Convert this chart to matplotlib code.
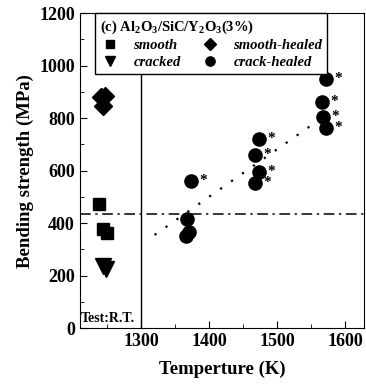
import matplotlib.pyplot as plt
from matplotlib.ticker import MultipleLocator

plt.rcParams['font.family'] = ['Liberation Serif', 'DejaVu Serif']
plt.rcParams['font.weight'] = 'bold'
plt.rcParams['mathtext.default'] = 'regular'

# room-temperature tests (plotted left of the 1300 K line)
smooth_x = [1238, 1244, 1250]
smooth_y = [472, 376, 364]
cracked_x = [1244, 1249]
cracked_y = [235, 226]
sheal_x = [1241, 1247, 1244]
sheal_y = [880, 884, 846]

# high-temperature crack-healed
chealed_x = [1373, 1368, 1370, 1366, 1473, 1468, 1473, 1468, 1572, 1566, 1568, 1572]
chealed_y = [560, 415, 368, 352, 720, 659, 594, 552, 949, 861, 804, 762]
starred = [True, False, False, False, True, True, True, True, True, True, True, True]

trend_x = [1320, 1560]
trend_y = [355, 790]
rt_level = 435

fig = plt.figure(figsize=(3.66, 3.86), dpi=100)
ax = fig.add_axes([0.218, 0.150, 0.777, 0.816])

ax.plot(trend_x, trend_y, color='k', ls=(0, (1, 5)), lw=1.6)
ax.axhline(rt_level, color='k', ls=(0, (7, 3, 1.5, 3)), lw=1.1)
ax.axvline(1300, color='k', lw=1.0)

ax.plot(smooth_x, smooth_y, 's', color='k', ms=8, label='smooth')
ax.plot(cracked_x, cracked_y, 'v', color='k', ms=11, label='cracked')
ax.plot(sheal_x, sheal_y, 'D', color='k', ms=9, label='smooth-healed')
ax.plot(chealed_x, chealed_y, 'o', color='k', ms=9.5, label='crack-healed')

for x, y, s in zip(chealed_x, chealed_y, starred):
    if s:
        ax.annotate('*', (x, y), xytext=(6, -2), textcoords='offset points',
                    fontsize=11, fontweight='bold')

ax.text(1212, 22, 'Test:R.T.', fontsize=10, fontweight='bold')

ax.set_xlim(1210, 1628)
ax.set_ylim(0, 1200)
ax.set_xticks([1300, 1400, 1500, 1600])
ax.xaxis.set_minor_locator(MultipleLocator(50))
ax.yaxis.set_major_locator(MultipleLocator(200))
ax.yaxis.set_minor_locator(MultipleLocator(100))
ax.tick_params(which='both', direction='in', labelsize=13)
ax.tick_params(which='major', length=5)
ax.tick_params(which='minor', length=3)
for lbl in ax.get_xticklabels() + ax.get_yticklabels():
    lbl.set_fontweight('bold')

ax.set_xlabel('Temperture (K)', fontsize=13.5, fontweight='bold', labelpad=8)
ax.set_ylabel('Bending strength (MPa)', fontsize=13.5, fontweight='bold')

leg = ax.legend(ncol=2, loc='upper left', bbox_to_anchor=(0.053, 1.0),
                title='(c) Al$_2$O$_3$/SiC/Y$_2$O$_3$(3%)',
                prop={'size': 10.5, 'weight': 'bold', 'style': 'italic'},
                title_fontproperties={'size': 10.5, 'weight': 'bold'},
                fancybox=False, edgecolor='k', framealpha=1,
                markerscale=0.7, handlelength=1.4, handletextpad=0.9,
                columnspacing=1.3, borderpad=0.35, labelspacing=0.25,
                borderaxespad=0)
leg._legend_box.align = 'left'
leg.get_frame().set_linewidth(1.0)

fig.savefig('out.png', dpi=100)
